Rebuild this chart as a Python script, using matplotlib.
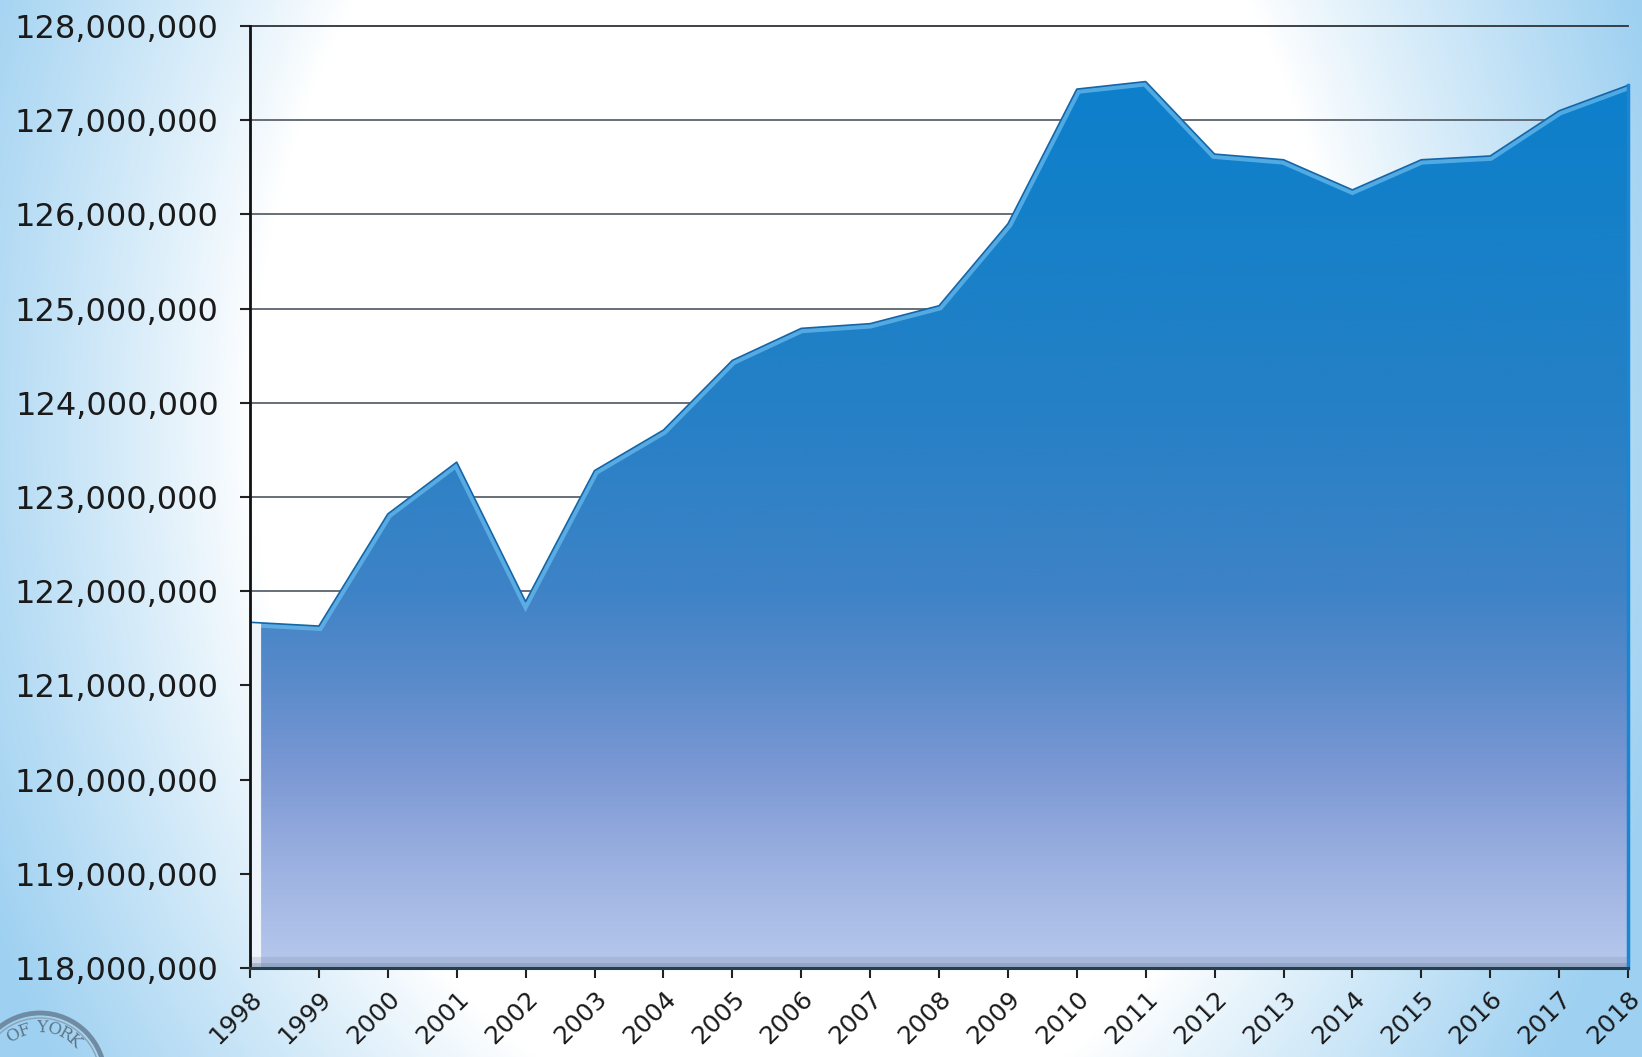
import numpy as np
import matplotlib
matplotlib.use("Agg")
import matplotlib.pyplot as plt
from matplotlib.patches import PathPatch, Circle
from matplotlib.colors import LinearSegmentedColormap, to_rgb
from matplotlib.ticker import FuncFormatter
import matplotlib.transforms as mtransforms

# ---------------- data ----------------
years = list(range(1998, 2019))
values_millions = [121.67, 121.63, 122.82, 123.37, 121.89, 123.28, 123.71,
                   124.45, 124.79, 124.84, 125.03, 125.90, 127.33, 127.41,
                   126.64, 126.58, 126.26, 126.58, 126.62, 127.10, 127.37]
values = [v * 1e6 for v in values_millions]
y_ticks = list(range(118_000_000, 128_000_001, 1_000_000))
x_tick_labels = [str(y) for y in years]
seal_text = "OF YORK"

W, H = 1642, 1057
fig = plt.figure(figsize=(W / 100, H / 100), dpi=100)

# ---------------- background gradient ----------------
bg_ax = fig.add_axes([0, 0, 1, 1], zorder=0)
yy, xx = np.mgrid[0:H, 0:W]
t = np.sqrt(((xx - 800) / 830.0) ** 2 + ((yy - 420) / 1100.0) ** 2)
b = np.clip((t - 0.66) / 0.42, 0, 1) ** 0.9
blue = np.array(to_rgb("#9dd0f1"))
img = (1 - b)[..., None] * np.ones(3) + b[..., None] * blue
bg_ax.imshow(img, extent=[0, W, H, 0], aspect="auto", interpolation="bilinear")
bg_ax.set_axis_off()

# ---------------- main axes ----------------
L, R, T, B = 250, 1628, 26, 968
ax = fig.add_axes([L / W, 1 - B / H, (R - L) / W, (B - T) / H], zorder=1)
ax.patch.set_alpha(0)

# grid lines
for yv in y_ticks:
    col = "#2e3338" if yv == y_ticks[-1] else "#5a646e"
    ax.axhline(yv, color=col, lw=1.3, zorder=1.5, clip_on=False)

# area shape
poly = ax.fill_between(years, values, y_ticks[0], facecolor="none",
                       edgecolor="none", zorder=2)
patch = PathPatch(poly.get_paths()[0], transform=ax.transData,
                  facecolor="none", edgecolor="none")
ax.add_patch(patch)

cmap = LinearSegmentedColormap.from_list("area", [
    (0.00, "#b6c8ec"),
    (0.10, "#9eb3e2"),
    (0.20, "#7e9ad5"),
    (0.30, "#5b8bcb"),
    (0.40, "#3e83c6"),
    (0.60, "#2580c6"),
    (0.80, "#1580c9"),
    (1.00, "#0a7fcd"),
])
grad = np.linspace(0, 1, 512).reshape(-1, 1)
im = ax.imshow(grad, extent=[years[0], years[-1], y_ticks[0], y_ticks[-1]],
               origin="lower", aspect="auto", cmap=cmap, zorder=2,
               interpolation="bicubic")
im.set_clip_path(patch)

# bevel highlight along top edge
hl, = ax.plot(years, values, color="#66b9ec", lw=7, alpha=0.75, zorder=3,
              solid_joinstyle="miter")
hl.set_clip_path(patch)
# left side face
side, = ax.plot([years[0], years[0]], [y_ticks[0], values[0]],
                color="#eef4fb", lw=16, zorder=3)
side.set_clip_path(patch)
# floor shadow
for lw_, a_ in [(16, 0.25), (7, 0.45)]:
    fl, = ax.plot([years[0], years[-1]], [y_ticks[0], y_ticks[0]],
                  color="#7d8cab", lw=lw_, alpha=a_, zorder=3)
    fl.set_clip_path(patch)
# edge outline
ax.plot(years, values, color="#1466a8", lw=1.2, zorder=4)
ax.plot([years[-1], years[-1]], [y_ticks[0], values[-1]], color="#1a86d2",
        lw=2.5, zorder=4, clip_on=False)

ax.set_xlim(years[0], years[-1])
ax.set_ylim(y_ticks[0], y_ticks[-1])

# spines
for s in ["top", "right"]:
    ax.spines[s].set_visible(False)
ax.spines["left"].set_color("#111111")
ax.spines["left"].set_linewidth(2)
ax.spines["bottom"].set_color("#24404e")
ax.spines["bottom"].set_linewidth(2.2)
ax.spines["left"].set_zorder(5)
ax.spines["bottom"].set_zorder(5)

# ticks
ax.set_yticks(y_ticks)
ax.yaxis.set_major_formatter(FuncFormatter(lambda v, p: f"{int(round(v)):,}"))
ax.tick_params(axis="y", direction="out", length=7.5, width=1.5,
               color="#222222", pad=15, labelsize=23, labelcolor="#1a1a1a")
ax.set_xticks(years)
ax.set_xticklabels(x_tick_labels, rotation=45, ha="right", va="top",
                   rotation_mode="anchor")
ax.tick_params(axis="x", direction="out", length=7.5, width=1.5,
               color="#222222", pad=6, labelsize=18, labelcolor="#1a1a1a")

# ---------------- seal fragment (bottom-left) ----------------
ident = mtransforms.IdentityTransform()
cx, cy = 40, -21
fig.add_artist(Circle((cx, cy), 65, transform=ident, fill=False,
                      edgecolor="#6f8ca3", lw=3.5, zorder=3))
fig.add_artist(Circle((cx, cy), 60, transform=ident, fill=False,
                      edgecolor="#8aa3b6", lw=1.0, zorder=3))
ang = 122.0
for ch in seal_text:
    th = np.deg2rad(ang)
    fig.text(cx + 50 * np.cos(th), cy + 50 * np.sin(th), ch, transform=ident,
             rotation=ang - 90, ha="center", va="center", fontsize=12,
             family="DejaVu Serif", color="#5d7587", zorder=3)
    ang -= 13.5 if ch != " " else 7

fig.savefig("out.png", dpi=100)
